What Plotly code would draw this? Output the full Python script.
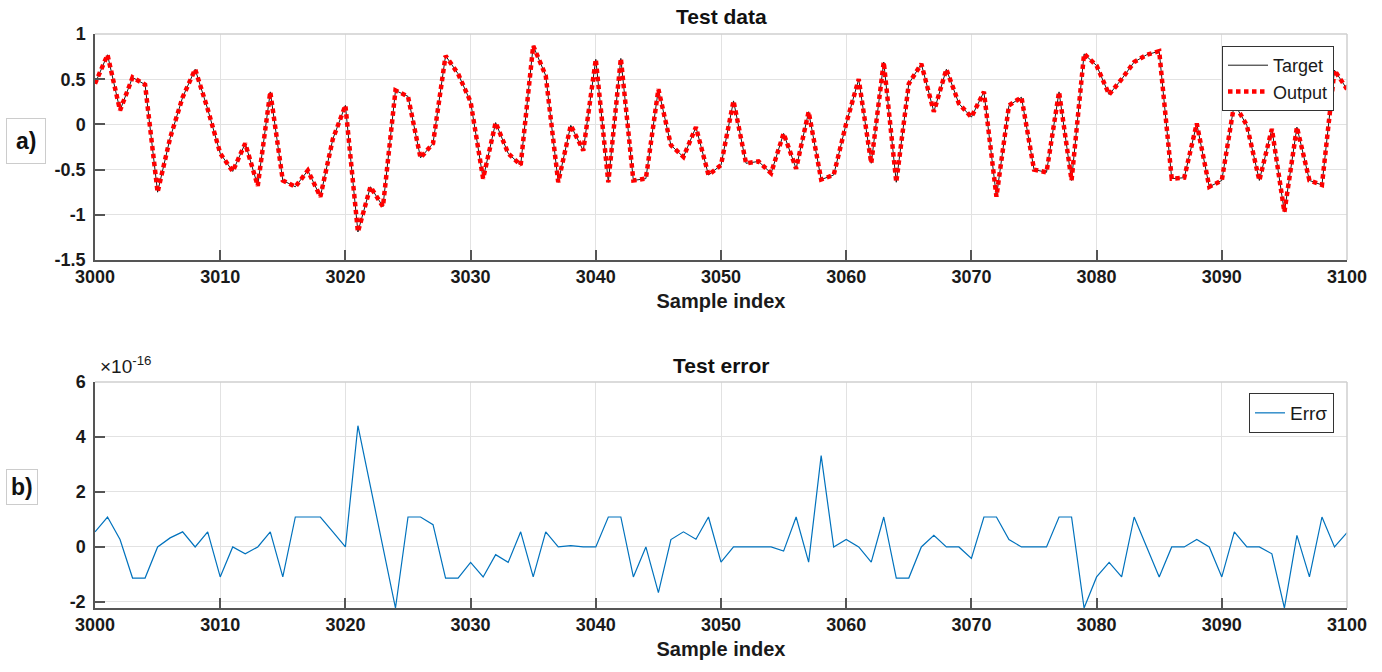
import plotly.graph_objects as go

# ---------------- data ----------------
sample_index = list(range(3000, 3101))

target = [
    0.45, 0.77, 0.155, 0.52, 0.44, -0.75, -0.15, 0.30, 0.61, 0.17,
    -0.32, -0.52, -0.21, -0.68, 0.36, -0.62, -0.69, -0.51, -0.80, -0.16,
    0.21, -1.19, -0.69, -0.91, 0.375, 0.31, -0.37, -0.21, 0.76, 0.56,
    0.25, -0.60, 0.02, -0.32, -0.45, 0.87, 0.54, -0.64, -0.01, -0.29,
    0.72, -0.64, 0.73, -0.62, -0.60, 0.39, -0.23, -0.36, -0.03, -0.56,
    -0.45, 0.26, -0.43, -0.41, -0.54, -0.10, -0.49, 0.14, -0.61, -0.56,
    0.01, 0.50, -0.43, 0.69, -0.64, 0.45, 0.67, 0.14, 0.61, 0.23,
    0.08, 0.36, -0.80, 0.21, 0.30, -0.50, -0.53, 0.36, -0.62, 0.78,
    0.65, 0.33, 0.50, 0.69, 0.77, 0.81, -0.60, -0.59, 0.01, -0.69,
    -0.62, 0.23, -0.01, -0.62, -0.05, -0.97, -0.03, -0.62, -0.67, 0.60,
    0.39,
]
# the network output coincides with the target (error ~1e-16)
output = list(target)

# error values, in units of 1e-16
err_mantissa = [
    0.55, 1.09, 0.27, -1.13, -1.13, 0.0, 0.33, 0.55, 0.0, 0.55,
    -1.09, 0.0, -0.25, 0.0, 0.55, -1.09, 1.09, 1.09, 1.09, 0.55,
    0.0, 4.41, 2.2, 0.0, -2.22, 1.09, 1.09, 0.81, -1.13, -1.13,
    -0.56, -1.09, -0.28, -0.56, 0.55, -1.09, 0.55, 0.0, 0.05, 0.0,
    0.0, 1.09, 1.09, -1.09, 0.0, -1.66, 0.27, 0.55, 0.28, 1.09,
    -0.55, 0.0, 0.0, 0.0, 0.0, -0.15, 1.09, -0.55, 3.32, 0.0,
    0.27, 0.0, -0.55, 1.09, -1.13, -1.13, 0.0, 0.42, 0.0, 0.0,
    -0.42, 1.09, 1.09, 0.27, 0.0, 0.0, 0.0, 1.09, 1.09, -2.22,
    -1.09, -0.56, -1.09, 1.09, 0.0, -1.09, 0.0, 0.0, 0.27, 0.0,
    -1.09, 0.55, 0.0, 0.0, -0.25, -2.22, 0.42, -1.09, 1.09, 0.0,
    0.52,
]
ERR_SCALE = 1e-16
error = [v * ERR_SCALE for v in err_mantissa]

x_ticks = list(range(3000, 3101, 10))
top_yticks = [1, 0.5, 0, -0.5, -1, -1.5]
top_yticklabels = ["1", "0.5", "0", "-0.5", "-1", "-1.5"]
bot_yticks = [6, 4, 2, 0, -2]
bot_yticklabels = ["6", "4", "2", "0", "-2"]

# ---------------- figure ----------------
W, H = 1382, 672
ML, MR, MT, MB = 95, 35, 34, 64
PH = H - MT - MB

def py(p):  # pixel-from-top -> paper fraction
    return (H - MB - p) / PH

def px(p):
    return (p - ML) / (W - ML - MR)

fig = go.Figure()

fig.add_trace(go.Scatter(
    x=sample_index, y=target, mode="lines", name="Target",
    line=dict(color="#1a1a1a", width=1), xaxis="x", yaxis="y", legend="legend"))
fig.add_trace(go.Scatter(
    x=sample_index, y=output, mode="lines", name="Output",
    line=dict(color="#ff0000", width=4.5, dash="4.5px,3.5px"), xaxis="x", yaxis="y",
    legend="legend"))
fig.add_trace(go.Scatter(
    x=sample_index, y=error, mode="lines", name="Errσ",
    line=dict(color="#0072BD", width=1.2), xaxis="x2", yaxis="y2",
    legend="legend2"))

FONT = "Liberation Sans, Arial, sans-serif"
axis_common = dict(
    showgrid=True, gridcolor="#e2e2e2", gridwidth=1,
    showline=True, linecolor="#555555", linewidth=1.5,
    ticks="inside", ticklen=10, tickcolor="#555555", tickwidth=1.5,
    zeroline=False,
    tickfont=dict(family=FONT, size=18, color="#1a1a1a", weight="bold"),
)

top_dom = [py(260), 1.0]
bot_dom = [0.0, py(382)]

fig.update_layout(
    width=W, height=H,
    margin=dict(l=ML, r=MR, t=MT, b=MB),
    paper_bgcolor="white", plot_bgcolor="white",
    font=dict(family=FONT, color="#1a1a1a"),
    xaxis=dict(axis_common, domain=[0, 1], range=[3000, 3100], anchor="y",
               tickvals=x_ticks,
               title=dict(text="<b>Sample index</b>", font=dict(size=20), standoff=8)),
    yaxis=dict(axis_common, domain=top_dom, range=[-1.5, 1], anchor="x",
               tickvals=top_yticks, ticktext=top_yticklabels, ticklabelstandoff=4),
    xaxis2=dict(axis_common, domain=[0, 1], range=[3000, 3100], anchor="y2",
                tickvals=x_ticks,
                title=dict(text="<b>Sample index</b>", font=dict(size=20), standoff=8)),
    yaxis2=dict(axis_common, domain=bot_dom, range=[-2.22 * ERR_SCALE, 6 * ERR_SCALE],
                anchor="x2",
                tickvals=[v * ERR_SCALE for v in bot_yticks], ticktext=bot_yticklabels,
                ticklabelstandoff=4),
    legend=dict(x=px(1334), y=py(46), xanchor="right", yanchor="top",
                bordercolor="#333333", borderwidth=1, bgcolor="white",
                font=dict(family=FONT, size=18, color="#1a1a1a"),
                tracegroupgap=0, itemwidth=40),
    legend2=dict(x=px(1334), y=py(393), xanchor="right", yanchor="top",
                 bordercolor="#333333", borderwidth=1, bgcolor="white",
                 font=dict(family=FONT, size=19, color="#1a1a1a")),
    showlegend=True,
)

# light box edges (top/right)
for xa, ya in (("x", "y"), ("x2", "y2")):
    fig.add_shape(type="line", xref=f"{xa} domain", yref=f"{ya} domain",
                  x0=0, x1=1, y0=1, y1=1, line=dict(color="#cfcfcf", width=1.5))
    fig.add_shape(type="line", xref=f"{xa} domain", yref=f"{ya} domain",
                  x0=1, x1=1, y0=0, y1=1, line=dict(color="#cfcfcf", width=1.5))

# titles
fig.add_annotation(text="<b>Test data</b>", xref="paper", yref="paper",
                   x=0.5, y=py(17), xanchor="center", yanchor="middle",
                   showarrow=False, font=dict(family=FONT, size=21, color="#111"))
fig.add_annotation(text="<b>Test error</b>", xref="paper", yref="paper",
                   x=0.5, y=py(365), xanchor="center", yanchor="middle",
                   showarrow=False, font=dict(family=FONT, size=21, color="#111"))

# exponent label
fig.add_annotation(text="×10<sup>-16</sup>", xref="paper", yref="paper",
                   x=px(98), y=py(379), xanchor="left", yanchor="bottom",
                   showarrow=False, font=dict(family=FONT, size=19, color="#1a1a1a"))

# panel labels
fig.add_annotation(text="<b>a)</b>", xref="paper", yref="paper",
                   x=px(26), y=py(141), xanchor="center", yanchor="middle",
                   showarrow=False, font=dict(family=FONT, size=23, color="#111"),
                   bordercolor="#cccccc", borderwidth=1, borderpad=9, bgcolor="white")
fig.add_annotation(text="<b>b)</b>", xref="paper", yref="paper",
                   x=px(22), y=py(487), xanchor="center", yanchor="middle",
                   showarrow=False, font=dict(family=FONT, size=23, color="#111"),
                   bordercolor="#cccccc", borderwidth=1, borderpad=4, bgcolor="white")

fig.write_html("out.html")
